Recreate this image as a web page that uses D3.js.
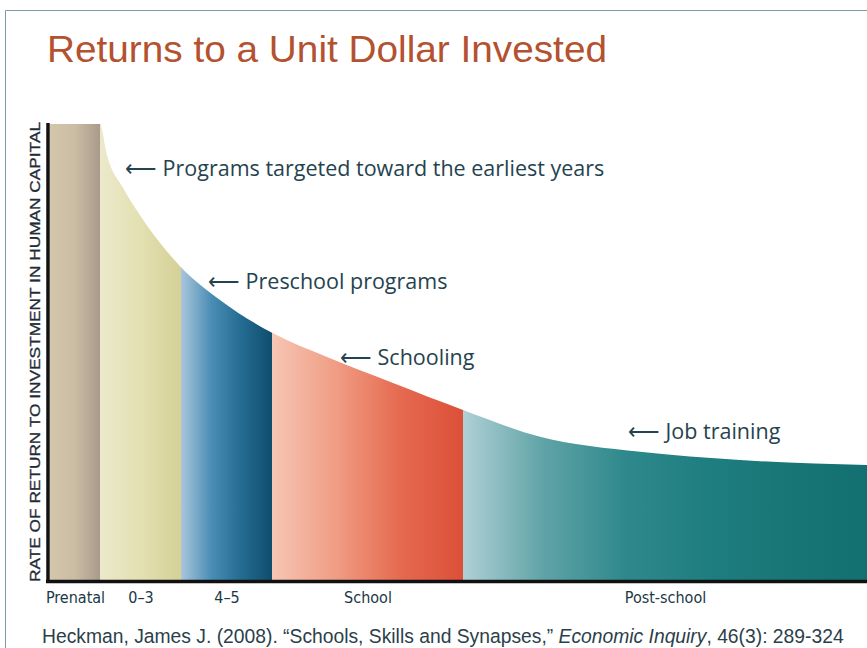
<!DOCTYPE html>
<html>
<head>
<meta charset="utf-8">
<script src="https://cdn.jsdelivr.net/npm/d3@7"></script>
<style>
  body { margin: 0; background: #fff; }
  svg { display: block; }
</style>
</head>
<body>
<script>
// stages along the life cycle (widths in relative units, prenatal = 1)
var stages = ["Prenatal", "0–3", "4–5", "School", "Post-school"];
var stageBreaks = [0, 1, 2.62, 4.44, 8.26, 16.34];

// rate of return curve (x in stage units, y 0-100)
var curveX = [1, 1.14, 1.46, 1.8, 2.62, 3.4, 4.44, 5.54, 6.86, 8.26, 9.8, 11.8, 13.8, 16.34];
var curveY = [100, 93.2, 86, 80, 68.6, 61.4, 54.2, 48.9, 43.2, 37.3, 31.4, 28.1, 26.3, 25.2];

var notes = [
  {text: "Programs targeted toward the earliest years", x: 1.5, y: 88.6},
  {text: "Preschool programs", x: 3.16, y: 63.8},
  {text: "Schooling", x: 5.8, y: 47.2},
  {text: "Job training", x: 11.56, y: 30.9}
];

var stageColors = [
  ["#d3c6ab", "#cbbda3", "#a8998b"],
  ["#ebe9cb", "#e3e0b2", "#d5d096"],
  ["#a9c6dc", "#4a8db4", "#246b91", "#0f4c6c"],
  ["#f6c6b4", "#f09d84", "#e56a50", "#dc4f38"],
  ["#b0d0d5", "#5fa3a7", "#2f898c", "#1f7e80", "#187676", "#137070"]
];

var width = 867, height = 648;
var svg = d3.select("body").append("svg")
  .attr("width", width)
  .attr("height", height);

var x = d3.scaleLinear().domain([0, 16.34]).range([50, 867]);
var y = d3.scaleLinear().domain([0, 100]).range([580, 124]);

// frame
svg.append("path")
  .attr("d", "M5.5,660V10.5H870")
  .attr("fill", "none")
  .attr("stroke", "#7e9aa8")
  .attr("stroke-width", 1);

svg.append("text")
  .attr("x", 47)
  .attr("y", 62)
  .attr("fill", "#b4512f")
  .style("font-family", "'Liberation Sans', Arial, sans-serif")
  .style("font-size", "36px")
  .attr("textLength", 560)
  .attr("lengthAdjust", "spacingAndGlyphs")
  .text("Returns to a Unit Dollar Invested");

var defs = svg.append("defs");
stages.forEach(function(s, i) {
  var g = defs.append("linearGradient")
    .attr("id", "grad" + i)
    .attr("x1", "0%").attr("x2", "100%")
    .attr("y1", "0%").attr("y2", "0%");
  stageColors[i].forEach(function(c, j) {
    g.append("stop")
      .attr("offset", (j / (stageColors[i].length - 1) * 100) + "%")
      .attr("stop-color", c);
  });
});

var pts = curveX.map((d, i) => [d, curveY[i]]);

var area = d3.area()
  .x(d => x(d[0]))
  .y0(y(0))
  .y1(d => y(d[1]))
  .curve(d3.curveMonotoneX);

var clip = defs.append("clipPath").attr("id", "under");
clip.append("path")
  .attr("d", area([[0, 100]].concat(pts)));

svg.append("g")
  .attr("clip-path", "url(#under)")
  .selectAll("rect")
  .data(stages)
  .enter()
  .append("rect")
  .attr("x", (d, i) => x(stageBreaks[i]))
  .attr("width", (d, i) => x(stageBreaks[i + 1]) - x(stageBreaks[i]) + 0.5)
  .attr("y", y(100))
  .attr("height", y(0) - y(100))
  .attr("fill", (d, i) => "url(#grad" + i + ")");

// axes
var xAxis = d3.axisBottom(x)
  .tickValues(stages.map((d, i) => (stageBreaks[i] + stageBreaks[i + 1]) / 2))
  .tickFormat((d, i) => stages[i])
  .tickSize(0)
  .tickPadding(10);

var gx = svg.append("g")
  .attr("transform", "translate(0," + (y(0) + 1.5) + ")")
  .call(xAxis);
gx.select(".domain")
  .attr("d", "M46," + 0 + "H867")
  .attr("stroke", "#111")
  .attr("stroke-width", 3.5);
gx.selectAll("text")
  .attr("fill", "#1b3846")
  .style("font-family", "'Liberation Sans Narrow', 'DejaVu Sans Condensed', sans-serif")
  .style("font-size", "16px");

var yAxis = d3.axisLeft(y).tickValues([]).tickSizeOuter(0);
var gy = svg.append("g")
  .attr("transform", "translate(48,0)")
  .call(yAxis);
gy.select(".domain")
  .attr("d", "M0," + (y(100) - 1) + "V" + (y(0) + 3))
  .attr("stroke", "#111")
  .attr("stroke-width", 3.5);

svg.append("text")
  .attr("transform", "translate(40," + 352 + ") rotate(-90)")
  .attr("text-anchor", "middle")
  .attr("fill", "#1f2c35")
  .attr("stroke", "#1f2c35")
  .attr("stroke-width", 0.3)
  .style("font-family", "'Liberation Sans', Arial, sans-serif")
  .style("font-size", "14.5px")
  .attr("textLength", 460)
  .attr("lengthAdjust", "spacingAndGlyphs")
  .text("RATE OF RETURN TO INVESTMENT IN HUMAN CAPITAL");

svg.append("g")
  .selectAll("text")
  .data(notes)
  .enter()
  .append("text")
  .attr("x", d => x(d.x))
  .attr("y", d => y(d.y))
  .attr("fill", "#25434f")
  .style("font-family", "'Open Sans', sans-serif")
  .style("font-size", "21.5px")
  .text(d => "⟵ " + d.text);

var cite = svg.append("text")
  .attr("x", 42)
  .attr("y", 643)
  .attr("fill", "#2b3f4b")
  .style("font-family", "'Liberation Sans', Arial, sans-serif")
  .style("font-size", "19.3px");
cite.append("tspan").text("Heckman, James J. (2008). “Schools, Skills and Synapses,” ");
cite.append("tspan").style("font-style", "italic").text("Economic Inquiry");
cite.append("tspan").text(", 46(3): 289-324");
</script>
</body>
</html>
